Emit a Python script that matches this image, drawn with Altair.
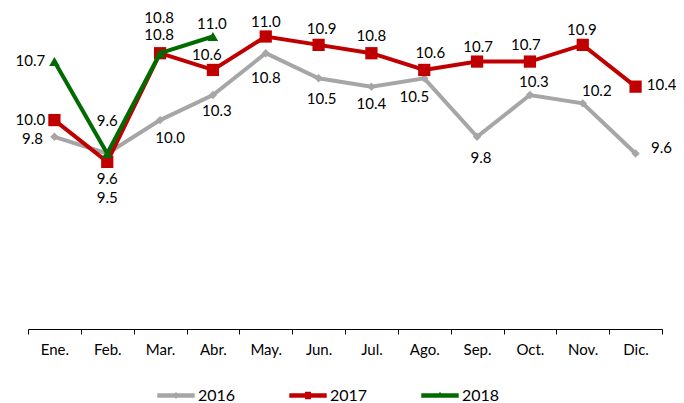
import altair as alt
import pandas as pd

months = ["Ene.", "Feb.", "Mar.", "Abr.", "May.", "Jun.", "Jul.", "Ago.", "Sep.", "Oct.", "Nov.", "Dic."]
series_names = ["2016", "2017", "2018"]

v2016 = [9.8, 9.6, 10.0, 10.3, 10.8, 10.5, 10.4, 10.5, 9.8, 10.3, 10.2, 9.6]
v2017 = [10.0, 9.5, 10.8, 10.6, 11.0, 10.9, 10.8, 10.6, 10.7, 10.7, 10.9, 10.4]
v2018 = [10.7, 9.6, 10.8, 11.0]

colors = ["#A6A6A6", "#C00000", "#006B00"]
shapes = ["diamond", "square", "triangle-up"]
sizes = [70, 150, 110]

# data-label placement (pixel offsets from each point)
dx2016 = [-22, 0, 10, 4, 0, 3, 0, -10, 4, 4, 14, 26]
dy2016 = [2, 25, 18, 16, 25, 21, 17, 19, 21, -13, -12, -6]
dx2017 = [-24, 0, -1, -6, 0, 3, 0, 6, 1, -4, -1, 26]
dy2017 = [0, 36, -18, -15, -15, -16, -17, -17, -15, -17, -15, -2]
dx2018 = [-24, 0, -1, -1]
dy2018 = [-1, -33, -35, -13]

# legend glyphs: a line with the series marker in the middle
legend_paths = [
    "M-1,-0.12L1,-0.12L1,0.12L-1,0.12Z M0,-0.2L0.13,0L0,0.2L-0.13,0Z",
    "M-1,-0.12L1,-0.12L1,0.12L-1,0.12Z M-0.16,-0.2L0.16,-0.2L0.16,0.2L-0.16,0.2Z",
    "M-1,-0.12L1,-0.12L1,0.12L-1,0.12Z M0,-0.22L0.16,0.12L-0.16,0.12Z",
]


def frame(name, values, dxs, dys):
    n = len(values)
    return pd.DataFrame({
        "month": months[:n], "series": name, "value": values,
        "label": [f"{v:.1f}" for v in values], "dx": dxs, "dy": dys,
    })


frames = [
    frame("2016", v2016, dx2016, dy2016),
    frame("2017", v2017, dx2017, dy2017),
    frame("2018", v2018, dx2018, dy2018),
]

x = alt.X(
    "month:O", sort=months,
    scale=alt.Scale(type="band", domain=months, paddingInner=0, paddingOuter=0),
    axis=alt.Axis(title=None, tickBand="extent", domainColor="#000000", tickColor="#000000",
                  tickSize=5, labelAngle=0, labelFont="Lato", labelFontSize=15,
                  labelColor="#000000", labelPadding=8, grid=False),
)
y = alt.Y("value:Q", scale=alt.Scale(domain=[7.5, 11.0], zero=False, nice=False), axis=None)

layers = []
for df, col, shp, sz in zip(frames, colors, shapes, sizes):
    base = alt.Chart(df).encode(x=x, y=y)
    layers.append(base.mark_line(color=col, strokeWidth=4))
    layers.append(base.mark_point(shape=shp, filled=True, size=sz, color=col, opacity=1))

for df in frames:
    layers.append(
        alt.Chart(df).mark_text(
            font="Lato", fontSize=15, color="#000000", align="center", baseline="middle",
            dx=alt.ExprRef(expr="datum.dx"), dy=alt.ExprRef(expr="datum.dy"),
        ).encode(x=x, y=y, text="label:N")
    )

all_df = pd.concat(frames, ignore_index=True)
leg = alt.Legend(
    title=None, orient="none", legendX=129, legendY=340, direction="horizontal",
    symbolSize=1400, symbolOpacity=1, symbolStrokeWidth=0, labelFont="Lato",
    labelFontSize=16, labelColor="#000000", labelOffset=3, columnPadding=53, padding=0,
)
legend_layer = alt.Chart(all_df).mark_point(opacity=0, filled=True).encode(
    x=x, y=y,
    color=alt.Color("series:N", scale=alt.Scale(domain=series_names, range=colors), legend=leg),
    shape=alt.Shape("series:N", scale=alt.Scale(domain=series_names, range=legend_paths), legend=leg),
)
layers.append(legend_layer)

chart = alt.layer(*layers).properties(
    width=634, height=292.5,
    autosize=alt.AutoSizeParams(type="none"),
    padding={"left": 20, "top": 28.5, "right": 14, "bottom": 74},
).configure_view(stroke=None)

chart.save("out.html", embed_options={"renderer": "svg", "actions": False})
